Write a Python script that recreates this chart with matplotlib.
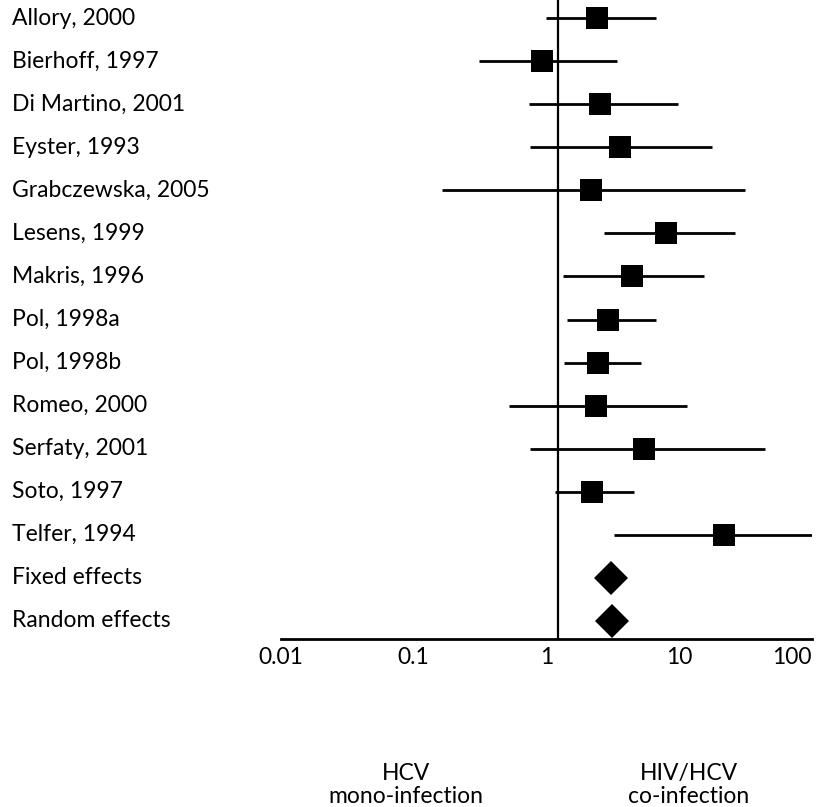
import matplotlib.pyplot as plt
from matplotlib.transforms import blended_transform_factory


# Данные исследований (отношение шансов и 95% ДИ)
studies = [
    "Allory, 2000", "Bierhoff, 1997", "Di Martino, 2001", "Eyster, 1993",
    "Grabczewska, 2005", "Lesens, 1999", "Makris, 1996", "Pol, 1998a",
    "Pol, 1998b", "Romeo, 2000", "Serfaty, 2001", "Soto, 1997", "Telfer, 1994",
]
odds_ratio = [2.40, 0.93, 2.53, 3.55, 2.18, 8.0, 4.41, 2.91, 2.46, 2.34, 5.42, 2.20, 21.7]
ci_low = [0.99, 0.31, 0.74, 0.75, 0.163, 2.71, 1.33, 1.43, 1.35, 0.52, 0.75, 1.16, 3.22]
ci_high = [6.68, 3.40, 9.8, 17.7, 31.3, 26.3, 15.4, 6.68, 5.15, 11.4, 44.3, 4.56, 100]

pooled_names = ["Fixed effects", "Random effects"]
pooled_or = [3.06, 3.14]

null_line = 1.23
tick_values = [0.01, 0.1, 1, 10, 100]
tick_labels = ["0.01", "0.1", "1", "10", "100"]

plt.rcParams['font.family'] = ['Lato', 'DejaVu Sans']
FS = 16.5

fig = plt.figure(figsize=(8.21, 8.07), dpi=100)
ax = fig.add_axes([281 / 821, 168 / 807, 531 / 821, 639 / 807])

n = len(studies)
rows = list(range(n))
pooled_rows = [n, n + 1]

# Доверительные интервалы и точечные оценки
ax.hlines(rows, ci_low, ci_high, color='black', lw=2.0)
ax.plot(odds_ratio, rows, 's', color='black', markersize=16.5, markeredgewidth=0)
ax.plot(pooled_or, pooled_rows, 'D', color='black', markersize=17.5, markeredgewidth=0)

ax.axvline(null_line, color='black', lw=1.6)

ax.set_xscale('log')
ax.set_xlim(0.01, 100)
ax.set_ylim(14.42, -0.42)

ax.set_xticks(tick_values)
ax.set_xticklabels(tick_labels, fontsize=FS)
ax.get_xticklabels()[-1].set_horizontalalignment('right')
ax.minorticks_off()
ax.tick_params(axis='x', length=0, pad=6)
ax.set_yticks([])

for side in ['top', 'right', 'left']:
    ax.spines[side].set_visible(False)
ax.spines['bottom'].set_linewidth(2.0)

# Подписи исследований слева
trans = blended_transform_factory(fig.transFigure, ax.transData)
for name, y in zip(studies + pooled_names, rows + pooled_rows):
    ax.text(12 / 821, y, name, transform=trans, ha='left', va='center', fontsize=FS)

# Подписи направлений эффекта
fig.text(406 / 821, 1 - 785 / 807, "HCV\nmono-infection", ha='center', va='center',
         fontsize=FS, linespacing=1.1)
fig.text(689 / 821, 1 - 785 / 807, "HIV/HCV\nco-infection", ha='center', va='center',
         fontsize=FS, linespacing=1.1)

plt.savefig('out.png', dpi=100)
plt.close()
